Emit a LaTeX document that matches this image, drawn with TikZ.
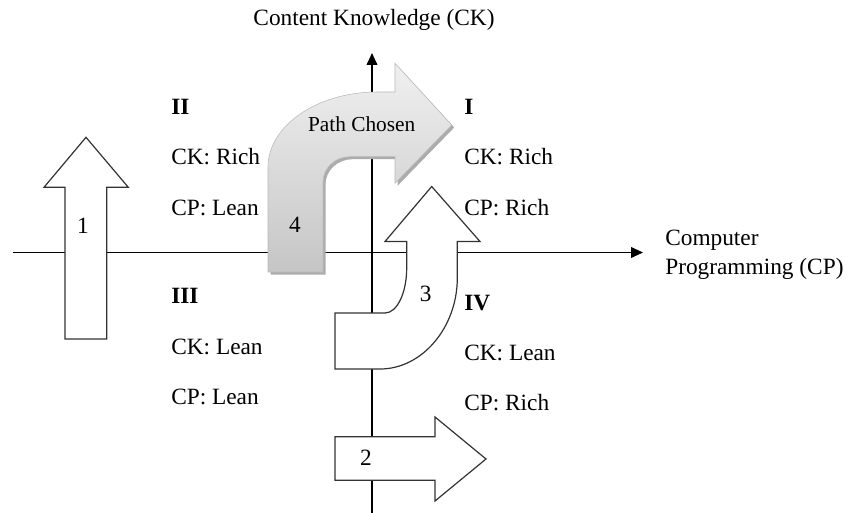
\documentclass[tikz,border=0pt]{standalone}
\usepackage{fontspec}
\setmainfont{Liberation Serif}
\usetikzlibrary{arrows.meta}
\newcommand{\arrowfourpath}{(268,272) -- (268,167) .. controls (268,126) and (317,92) .. (377,92) -- (395,92) -- (395,63.3) -- (451.7,125) -- (395,183.3) -- (395,156.7) -- (350,156.7) .. controls (335,156.7) and (323,168) .. (323,182) -- (323,272) -- cycle}
\begin{document}
\begin{tikzpicture}[x=0.75pt,y=-0.75pt,
  lbl/.style={font=\fontsize{17.5}{21}\selectfont, inner sep=0pt, anchor=base west},
  qlbl/.style={font=\fontsize{17.5}{21}\selectfont\bfseries, inner sep=0pt, anchor=base west},
  num/.style={font=\fontsize{17.5}{21}\selectfont, inner sep=0pt, anchor=base},
  axisline/.style={line width=1.3pt, -{Triangle[length=9pt,width=8pt]}},
  blockarrow/.style={draw=black!80, line width=0.9pt, fill=white, line join=miter},
]
\useasboundingbox (0,0) rectangle (859,513);

% axes
\coordinate (xs) at (13,252.5);
\coordinate (xe) at (643,252.5);
\coordinate (ys) at (372,513);
\coordinate (ye) at (372,53);
\draw[axisline] (xs) -- (xe);
\draw[axisline] (ys) -- (ye);

% arrow 1
\draw[blockarrow] (65,339) -- (65,187.3) -- (44,187.3) -- (86,137.3) -- (128.3,187.3) -- (106.7,187.3) -- (106.7,339) -- cycle;
% arrow 2
\draw[blockarrow] (335,436.7) -- (435,436.7) -- (435,417) -- (486,459) -- (435,501) -- (435,480.3) -- (335,480.3) -- cycle;
% arrow 3
\draw[blockarrow] (335,313) -- (385,313) .. controls (397,313) and (406.7,293) .. (406.7,268) -- (406.7,241.5) -- (385,241.5) -- (431.7,186.5) -- (480,241.5) -- (457.3,241.5) -- (457.3,278) .. controls (457.3,327) and (422.5,369) .. (380,369) -- (335,369) -- cycle;
% arrow 4 (path chosen)
\fill[gray!65, shift={(2.5,2.5)}] \arrowfourpath;
\shadedraw[top color=gray!12, bottom color=gray!45, draw=gray!55, line width=0.4pt] \arrowfourpath;

% arrow labels
\node[num] (n1) at (83,233.3) {1};
\node[num] (n2) at (366,465) {2};
\node[num] (n3) at (425.8,301.7) {3};
\node[num] (n4) at (295,232.7) {4};
\node[font=\fontsize{16}{19}\selectfont, inner sep=0pt, anchor=base] (pc) at (361.7,131.7) {Path Chosen};

% axis titles
\node[lbl, anchor=base] (ck) at (374,26) {Content Knowledge (CK)};
\node[lbl] (cp1) at (665,245) {Computer};
\node[lbl] (cp2) at (665,274) {Programming (CP)};

% quadrant II
\node[qlbl] (q2) at (171,115) {II};
\node[lbl] (q2a) at (171,165) {CK: Rich};
\node[lbl] (q2b) at (171,215) {CP: Lean};
% quadrant I
\node[qlbl] (q1) at (464,115) {I};
\node[lbl] (q1a) at (464,165) {CK: Rich};
\node[lbl] (q1b) at (464,215) {CP: Rich};
% quadrant III
\node[qlbl] (q3) at (171,303.3) {III};
\node[lbl] (q3a) at (171,354) {CK: Lean};
\node[lbl] (q3b) at (171,404) {CP: Lean};
% quadrant IV
\node[qlbl] (q4) at (464,310) {IV};
\node[lbl] (q4a) at (464,360) {CK: Lean};
\node[lbl] (q4b) at (464,410) {CP: Rich};
\end{tikzpicture}
\end{document}
